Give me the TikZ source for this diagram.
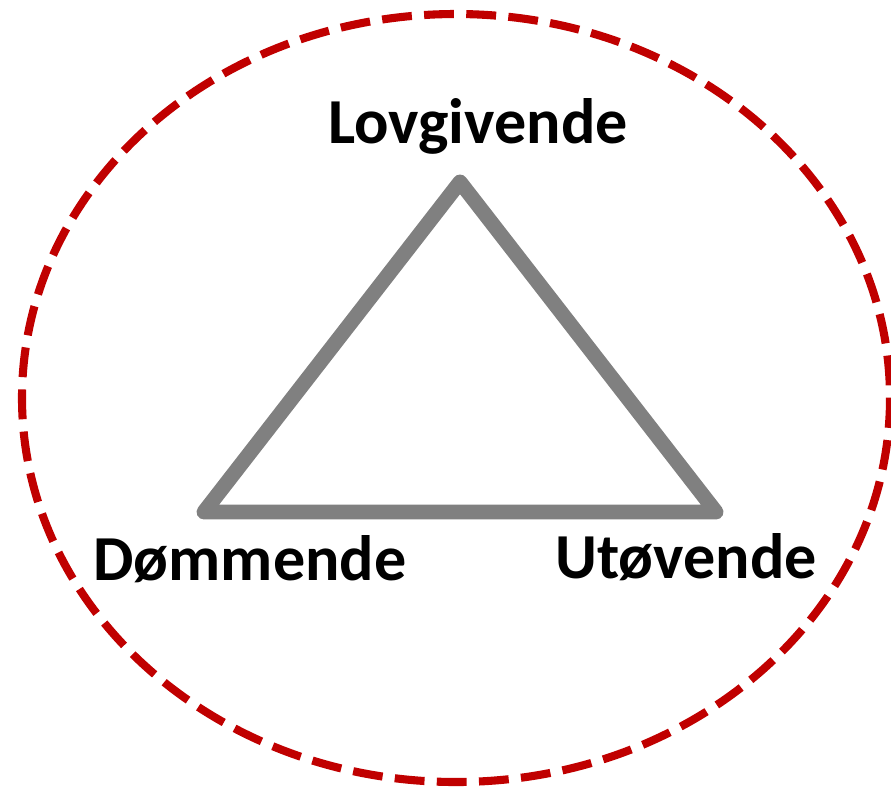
\documentclass[tikz,border=0pt]{standalone}
\usepackage{fontspec}
\setmainfont{Carlito}
\definecolor{rimred}{RGB}{192,0,0}
\definecolor{edgegray}{RGB}{128,128,128}
\begin{document}
\begin{tikzpicture}[
    x=0.02cm, y=-0.02cm,
    font=\fontsize{36.5}{42}\selectfont\bfseries,
    rim/.style={draw=rimred, line width=4.6pt, dash pattern=on 17pt off 7pt},
    power/.style={draw=edgegray, line width=8.5pt, line join=round, line cap=round},
    lbl/.style={anchor=base, inner sep=0pt}
]
\useasboundingbox (0,0) rectangle (891,789);

% Frame
\draw[rim] (456,398) ellipse [x radius=434, y radius=384];

% Triangle corners
\coordinate (top)   at (460,182);
\coordinate (left)  at (204,512);
\coordinate (right) at (716,512);

\draw[power] (top) -- (right) -- (left) -- cycle;

% Labels
\node[lbl] (lov) at (478,143) {Lovgivende};
\node[lbl] (dom) at (250,580) {Dømmende};
\node[lbl] (uto) at (686,578) {Utøvende};

\end{tikzpicture}
\end{document}
